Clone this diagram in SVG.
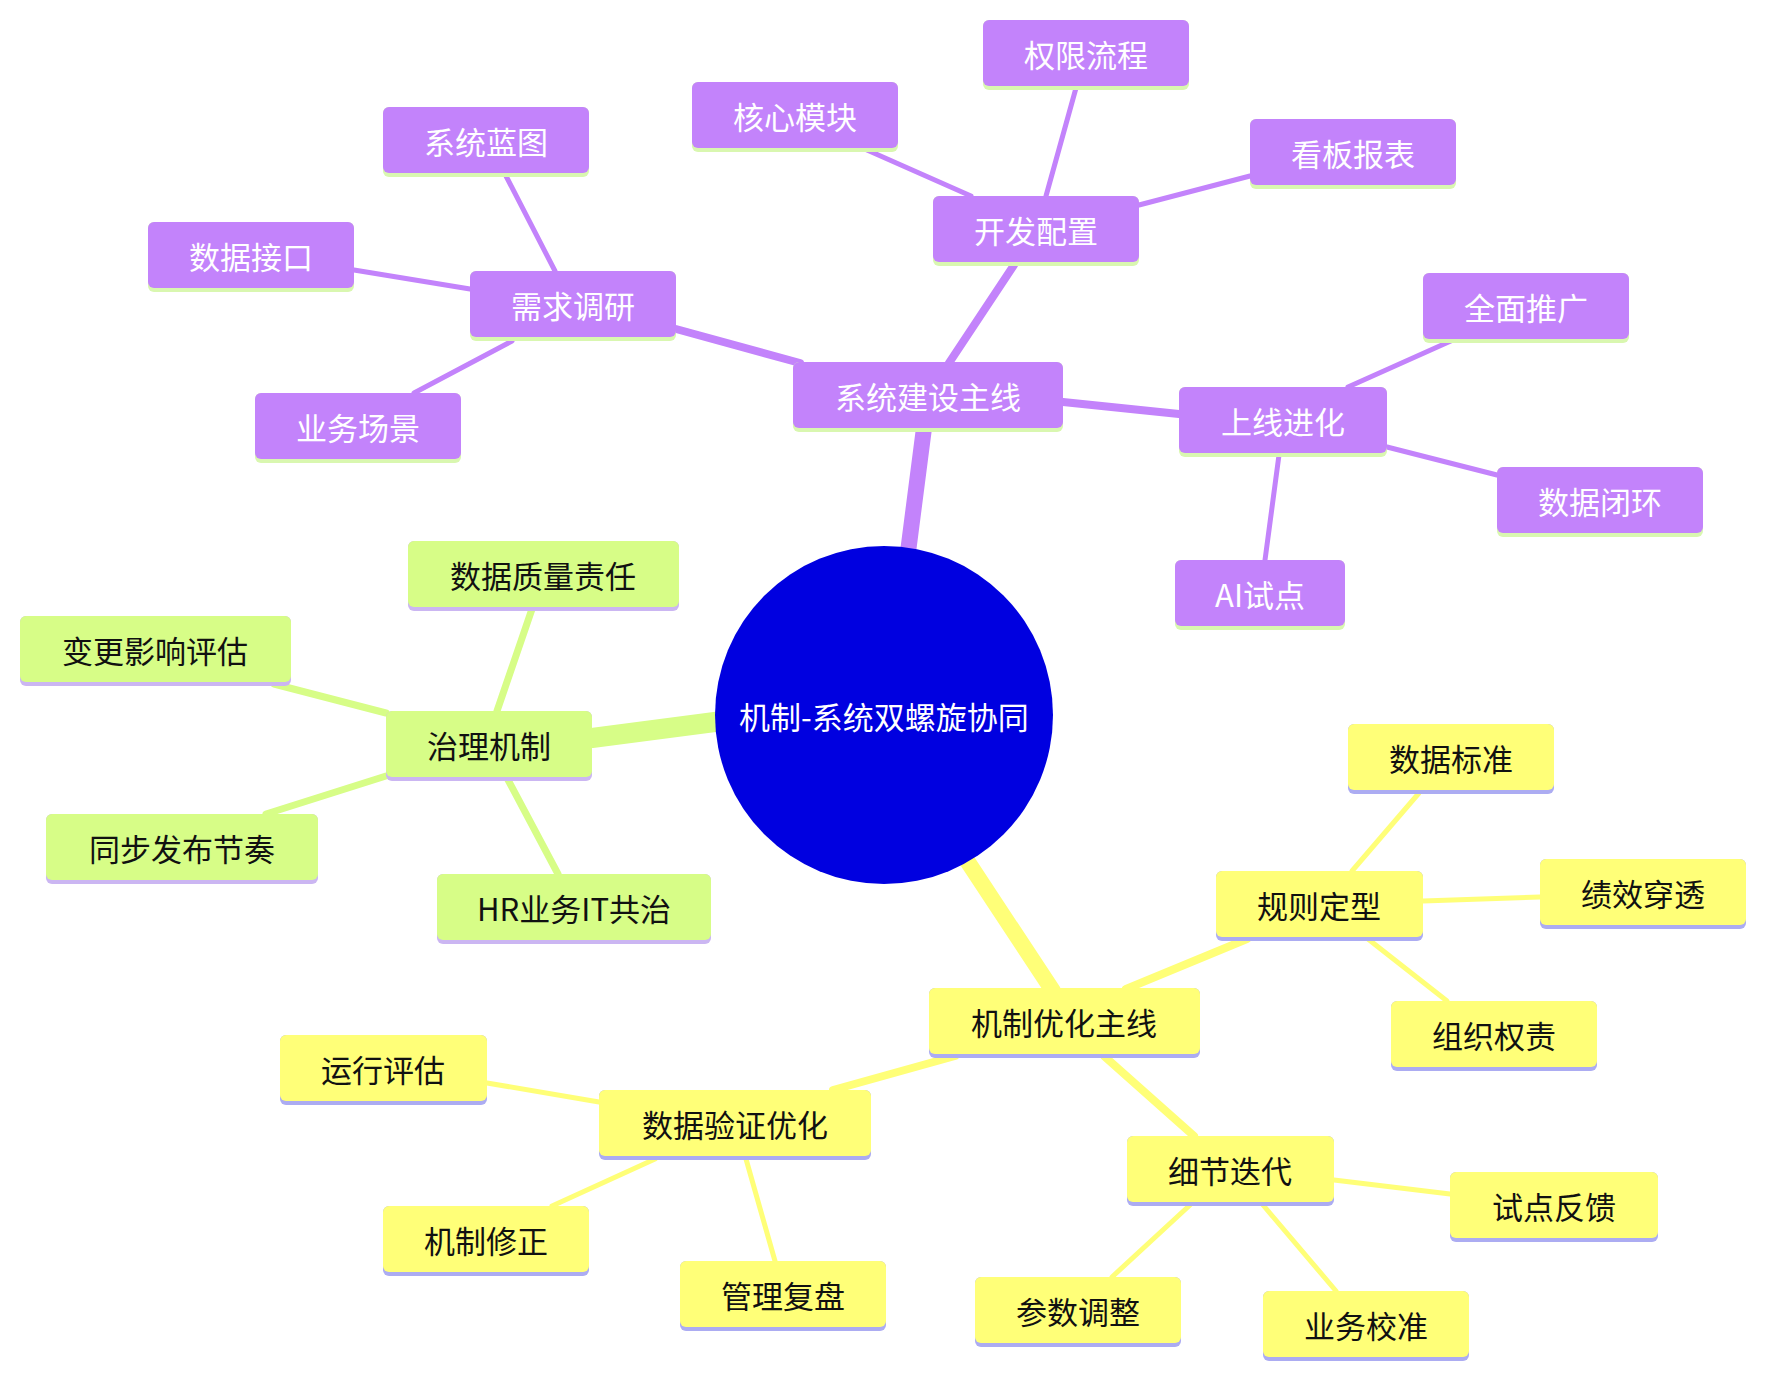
<svg xmlns="http://www.w3.org/2000/svg" width="1766" height="1377" viewBox="0 0 1766 1377">
<style>
text{font-family:"Noto Sans CJK SC","Noto Sans",sans-serif;font-size:31px;text-anchor:middle;dominant-baseline:central}
.p rect.b{fill:#c383fb}.p rect.u{fill:#d9f7b0}.p text{fill:#fff}
.g rect.b{fill:#d7fd87}.g rect.u{fill:#cbb6f2}.g text{fill:#111}
.y rect.b{fill:#ffff78}.y rect.u{fill:#acacf2}.y text{fill:#111}
.cp{stroke:#c383fb;stroke-linecap:round;fill:none}
.cg{stroke:#d7fd87;stroke-linecap:round;fill:none}
.cy{stroke:#ffff78;stroke-linecap:round;fill:none}
</style>
<rect width="1766" height="1377" fill="#fff"/>
<g id="connectors">
<line class="cp" x1="907" y1="560" x2="924" y2="428" stroke-width="16"/>
<line class="cp" x1="800" y1="363" x2="676" y2="329" stroke-width="8"/>
<line class="cp" x1="949" y1="363" x2="1014" y2="265" stroke-width="8"/>
<line class="cp" x1="1063" y1="402" x2="1179" y2="414" stroke-width="8"/>
<line class="cp" x1="555" y1="271" x2="506" y2="176" stroke-width="5"/>
<line class="cp" x1="470" y1="289" x2="354" y2="270" stroke-width="5"/>
<line class="cp" x1="512" y1="341" x2="414" y2="393" stroke-width="5"/>
<line class="cp" x1="971" y1="196" x2="867" y2="150" stroke-width="5"/>
<line class="cp" x1="1046" y1="196" x2="1076" y2="88" stroke-width="5"/>
<line class="cp" x1="1139" y1="205" x2="1250" y2="176" stroke-width="5"/>
<line class="cp" x1="1348" y1="387" x2="1453" y2="340" stroke-width="5"/>
<line class="cp" x1="1387" y1="447" x2="1497" y2="475" stroke-width="5"/>
<line class="cp" x1="1279" y1="455" x2="1265" y2="560" stroke-width="5"/>
<line class="cg" x1="730" y1="720" x2="592" y2="738" stroke-width="20"/>
<line class="cg" x1="497" y1="711" x2="532" y2="609" stroke-width="7"/>
<line class="cg" x1="386" y1="713" x2="274" y2="684" stroke-width="7"/>
<line class="cg" x1="386" y1="776" x2="266" y2="814" stroke-width="7"/>
<line class="cg" x1="507" y1="778" x2="558" y2="874" stroke-width="7"/>
<line class="cy" x1="960" y1="850" x2="1053" y2="991" stroke-width="16"/>
<line class="cy" x1="1126" y1="989" x2="1247" y2="939" stroke-width="8"/>
<line class="cy" x1="955" y1="1056" x2="833" y2="1090" stroke-width="8"/>
<line class="cy" x1="1104" y1="1056" x2="1194" y2="1136" stroke-width="8"/>
<line class="cy" x1="1352" y1="871" x2="1419" y2="793" stroke-width="5"/>
<line class="cy" x1="1423" y1="901" x2="1540" y2="897" stroke-width="5"/>
<line class="cy" x1="1368" y1="939" x2="1447" y2="1001" stroke-width="5"/>
<line class="cy" x1="599" y1="1102" x2="487" y2="1083" stroke-width="5"/>
<line class="cy" x1="655" y1="1159" x2="552" y2="1206" stroke-width="5"/>
<line class="cy" x1="746" y1="1159" x2="775" y2="1261" stroke-width="5"/>
<line class="cy" x1="1334" y1="1180" x2="1450" y2="1194" stroke-width="5"/>
<line class="cy" x1="1190" y1="1205" x2="1112" y2="1277" stroke-width="5"/>
<line class="cy" x1="1263" y1="1205" x2="1336" y2="1291" stroke-width="5"/>
</g>
<g id="root"><circle cx="884" cy="715" r="169" fill="#0000e0"/><text x="884" y="715" fill="#fff">机制-系统双螺旋协同</text></g>
<g id="n1" class="p"><rect class="u" x="793" y="362" width="270" height="70" rx="6"/><rect class="b" x="793" y="362" width="270" height="66" rx="6"/><text x="928" y="395">系统建设主线</text></g>
<g id="n2" class="p"><rect class="u" x="470" y="271" width="206" height="70" rx="6"/><rect class="b" x="470" y="271" width="206" height="66" rx="6"/><text x="573" y="304">需求调研</text></g>
<g id="n3" class="p"><rect class="u" x="383" y="107" width="206" height="70" rx="6"/><rect class="b" x="383" y="107" width="206" height="66" rx="6"/><text x="486" y="140">系统蓝图</text></g>
<g id="n4" class="p"><rect class="u" x="148" y="222" width="206" height="70" rx="6"/><rect class="b" x="148" y="222" width="206" height="66" rx="6"/><text x="251" y="255">数据接口</text></g>
<g id="n5" class="p"><rect class="u" x="255" y="393" width="206" height="70" rx="6"/><rect class="b" x="255" y="393" width="206" height="66" rx="6"/><text x="358" y="426">业务场景</text></g>
<g id="n6" class="p"><rect class="u" x="933" y="196" width="206" height="70" rx="6"/><rect class="b" x="933" y="196" width="206" height="66" rx="6"/><text x="1036" y="229">开发配置</text></g>
<g id="n7" class="p"><rect class="u" x="692" y="82" width="206" height="70" rx="6"/><rect class="b" x="692" y="82" width="206" height="66" rx="6"/><text x="795" y="115">核心模块</text></g>
<g id="n8" class="p"><rect class="u" x="983" y="20" width="206" height="70" rx="6"/><rect class="b" x="983" y="20" width="206" height="66" rx="6"/><text x="1086" y="53">权限流程</text></g>
<g id="n9" class="p"><rect class="u" x="1250" y="119" width="206" height="70" rx="6"/><rect class="b" x="1250" y="119" width="206" height="66" rx="6"/><text x="1353" y="152">看板报表</text></g>
<g id="n10" class="p"><rect class="u" x="1179" y="387" width="208" height="70" rx="6"/><rect class="b" x="1179" y="387" width="208" height="66" rx="6"/><text x="1283" y="420">上线进化</text></g>
<g id="n11" class="p"><rect class="u" x="1423" y="273" width="206" height="70" rx="6"/><rect class="b" x="1423" y="273" width="206" height="66" rx="6"/><text x="1526" y="306">全面推广</text></g>
<g id="n12" class="p"><rect class="u" x="1497" y="467" width="206" height="70" rx="6"/><rect class="b" x="1497" y="467" width="206" height="66" rx="6"/><text x="1600" y="500">数据闭环</text></g>
<g id="n13" class="p"><rect class="u" x="1175" y="560" width="170" height="70" rx="6"/><rect class="b" x="1175" y="560" width="170" height="66" rx="6"/><text x="1260" y="593">AI试点</text></g>
<g id="n14" class="g"><rect class="u" x="386" y="711" width="206" height="70" rx="6"/><rect class="b" x="386" y="711" width="206" height="66" rx="6"/><text x="489" y="744">治理机制</text></g>
<g id="n15" class="g"><rect class="u" x="408" y="541" width="271" height="70" rx="6"/><rect class="b" x="408" y="541" width="271" height="66" rx="6"/><text x="543" y="574">数据质量责任</text></g>
<g id="n16" class="g"><rect class="u" x="20" y="616" width="271" height="70" rx="6"/><rect class="b" x="20" y="616" width="271" height="66" rx="6"/><text x="155" y="649">变更影响评估</text></g>
<g id="n17" class="g"><rect class="u" x="46" y="814" width="272" height="70" rx="6"/><rect class="b" x="46" y="814" width="272" height="66" rx="6"/><text x="182" y="847">同步发布节奏</text></g>
<g id="n18" class="g"><rect class="u" x="437" y="874" width="274" height="70" rx="6"/><rect class="b" x="437" y="874" width="274" height="66" rx="6"/><text x="574" y="907">HR业务IT共治</text></g>
<g id="n19" class="y"><rect class="u" x="929" y="988" width="271" height="70" rx="6"/><rect class="b" x="929" y="988" width="271" height="66" rx="6"/><text x="1064" y="1021">机制优化主线</text></g>
<g id="n20" class="y"><rect class="u" x="1216" y="871" width="207" height="70" rx="6"/><rect class="b" x="1216" y="871" width="207" height="66" rx="6"/><text x="1319" y="904">规则定型</text></g>
<g id="n21" class="y"><rect class="u" x="1348" y="724" width="206" height="70" rx="6"/><rect class="b" x="1348" y="724" width="206" height="66" rx="6"/><text x="1451" y="757">数据标准</text></g>
<g id="n22" class="y"><rect class="u" x="1540" y="859" width="206" height="70" rx="6"/><rect class="b" x="1540" y="859" width="206" height="66" rx="6"/><text x="1643" y="892">绩效穿透</text></g>
<g id="n23" class="y"><rect class="u" x="1391" y="1001" width="206" height="70" rx="6"/><rect class="b" x="1391" y="1001" width="206" height="66" rx="6"/><text x="1494" y="1034">组织权责</text></g>
<g id="n24" class="y"><rect class="u" x="599" y="1090" width="272" height="70" rx="6"/><rect class="b" x="599" y="1090" width="272" height="66" rx="6"/><text x="735" y="1123">数据验证优化</text></g>
<g id="n25" class="y"><rect class="u" x="280" y="1035" width="207" height="70" rx="6"/><rect class="b" x="280" y="1035" width="207" height="66" rx="6"/><text x="383" y="1068">运行评估</text></g>
<g id="n26" class="y"><rect class="u" x="383" y="1206" width="206" height="70" rx="6"/><rect class="b" x="383" y="1206" width="206" height="66" rx="6"/><text x="486" y="1239">机制修正</text></g>
<g id="n27" class="y"><rect class="u" x="680" y="1261" width="206" height="70" rx="6"/><rect class="b" x="680" y="1261" width="206" height="66" rx="6"/><text x="783" y="1294">管理复盘</text></g>
<g id="n28" class="y"><rect class="u" x="1127" y="1136" width="207" height="70" rx="6"/><rect class="b" x="1127" y="1136" width="207" height="66" rx="6"/><text x="1230" y="1169">细节迭代</text></g>
<g id="n29" class="y"><rect class="u" x="1450" y="1172" width="208" height="70" rx="6"/><rect class="b" x="1450" y="1172" width="208" height="66" rx="6"/><text x="1554" y="1205">试点反馈</text></g>
<g id="n30" class="y"><rect class="u" x="975" y="1277" width="206" height="70" rx="6"/><rect class="b" x="975" y="1277" width="206" height="66" rx="6"/><text x="1078" y="1310">参数调整</text></g>
<g id="n31" class="y"><rect class="u" x="1263" y="1291" width="206" height="70" rx="6"/><rect class="b" x="1263" y="1291" width="206" height="66" rx="6"/><text x="1366" y="1324">业务校准</text></g>
</svg>
